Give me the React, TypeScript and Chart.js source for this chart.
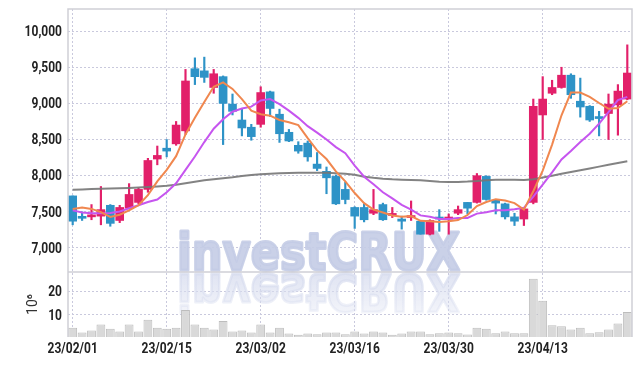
import React, { useEffect, useRef } from 'react';
import { Chart, registerables } from 'chart.js';

Chart.register(...registerables);

const dates = [
  '23/02/01', '23/02/02', '23/02/03', '23/02/06', '23/02/07', '23/02/08', '23/02/09', '23/02/10', '23/02/13', '23/02/14',
  '23/02/15', '23/02/16', '23/02/17', '23/02/20', '23/02/21', '23/02/22', '23/02/23', '23/02/24', '23/02/27', '23/02/28',
  '23/03/02', '23/03/03', '23/03/06', '23/03/07', '23/03/08', '23/03/09', '23/03/10', '23/03/13', '23/03/14', '23/03/15',
  '23/03/16', '23/03/17', '23/03/20', '23/03/21', '23/03/22', '23/03/23', '23/03/24', '23/03/27', '23/03/28', '23/03/29',
  '23/03/30', '23/03/31', '23/04/03', '23/04/04', '23/04/05', '23/04/06', '23/04/07', '23/04/10', '23/04/11', '23/04/12',
  '23/04/13', '23/04/14', '23/04/17', '23/04/18', '23/04/19', '23/04/20', '23/04/21', '23/04/24', '23/04/25', '23/04/26',
];

const opens = [
  7720, 7420, 7430, 7440, 7590, 7380, 7550, 7630, 7810, 8230,
  8380, 8440, 8620, 9480, 9450, 9220, 9370, 8990, 8770, 8670,
  8710, 9160, 8850, 8600, 8420, 8450, 8160, 8060, 7990, 7810,
  7560, 7560, 7480, 7600, 7450, 7400, 7420, 7370, 7190, 7420,
  7400, 7480, 7630, 7630, 7990, 7660, 7610, 7430, 7400, 7630,
  8840, 9140, 9220, 9390, 9030, 8960, 8810, 8860, 8980, 9060,
];
const highs = [
  7720, 7500, 7600, 7850, 7600, 7590, 7890, 7830, 8240, 8410,
  8500, 8750, 9470, 9630, 9640, 9470, 9380, 9130, 8930, 8710,
  9230, 9170, 8920, 8640, 8470, 8480, 8320, 8120, 8010, 7910,
  7570, 7610, 7810, 7620, 7560, 7440, 7650, 7380, 7390, 7530,
  7470, 7580, 7630, 8030, 8000, 7670, 7620, 7480, 7550, 9060,
  9370, 9320, 9500, 9410, 9350, 8970, 8890, 9130, 9260, 9810,
];
const lows = [
  7320, 7380, 7390, 7320, 7300, 7350, 7540, 7610, 7770, 8150,
  8260, 8420, 8570, 9260, 9290, 9140, 8430, 8840, 8550, 8490,
  8670, 8820, 8460, 8470, 8310, 8200, 8070, 7750, 7600, 7610,
  7270, 7360, 7460, 7380, 7420, 7260, 7380, 7190, 7180, 7230,
  7190, 7460, 7470, 7620, 7660, 7470, 7400, 7310, 7310, 7610,
  8500, 9120, 9210, 9070, 8810, 8750, 8550, 8500, 8560, 9050,
];
const closes = [
  7370, 7410, 7450, 7530, 7340, 7560, 7740, 7810, 8210, 8280,
  8340, 8700, 9310, 9370, 9360, 9410, 9000, 8890, 8660, 8540,
  9150, 8930, 8580, 8480, 8340, 8260, 8100, 7970, 7610, 7670,
  7440, 7390, 7530, 7390, 7470, 7370, 7440, 7190, 7380, 7400,
  7420, 7530, 7550, 8000, 7670, 7620, 7430, 7370, 7540, 8960,
  9060, 9220, 9390, 9120, 8950, 8770, 8790, 8990, 9170, 9420,
];

// volume, millions of shares
const volumes = [
  4.6, 2.6, 3.4, 6.0, 4.2, 3.0, 5.9, 3.0, 7.9, 4.6,
  4.2, 4.6, 12.0, 5.9, 4.6, 3.9, 7.4, 3.0, 3.4, 2.6,
  5.9, 2.6, 4.6, 2.2, 1.6, 2.2, 1.9, 2.6, 2.6, 1.9,
  3.0, 2.2, 3.0, 2.6, 1.6, 2.2, 3.0, 3.0, 1.9, 2.3,
  2.6, 2.3, 1.7, 4.6, 4.2, 2.3, 3.0, 2.3, 2.3, 25.2,
  15.9, 5.6, 5.2, 3.8, 4.6, 2.3, 2.7, 3.9, 6.4, 11.2,
];

const ma5 = [
  7540, 7560, 7540, 7495, 7430, 7460, 7520, 7590, 7730, 7920,
  8080, 8270, 8570, 8800, 9020, 9230, 9290, 9200, 9060, 8900,
  8850, 8830, 8770, 8740, 8700, 8520, 8350, 8230, 8060, 7920,
  7760, 7620, 7530, 7490, 7450, 7430, 7440, 7375, 7370, 7360,
  7370, 7385, 7455, 7580, 7635, 7675, 7655, 7620, 7530, 7785,
  8070, 8430, 8835, 9150, 9150, 9090, 9005, 8925, 8935, 9030,
];
const ma10 = [
  7520, 7490, 7480, 7480, 7485, 7505, 7550, 7590, 7635, 7670,
  7770, 7895, 8080, 8265, 8465, 8650, 8780, 8885, 8930, 8955,
  9040, 9060, 8990, 8900, 8800, 8685, 8595, 8500, 8395, 8310,
  8140, 7985, 7880, 7770, 7685, 7595, 7530, 7450, 7430, 7400,
  7400, 7415, 7415, 7475, 7495, 7520, 7520, 7535, 7555, 7710,
  7875, 8045, 8225, 8340, 8465, 8580, 8720, 8880, 9045, 9090,
];
const maLong = [
  7805, 7810, 7815, 7818, 7822, 7826, 7830, 7835, 7842, 7850,
  7860, 7875, 7895, 7915, 7935, 7950, 7965, 7978, 7995, 8010,
  8020, 8028, 8033, 8038, 8040, 8042, 8042, 8040, 8035, 8025,
  8012, 7985, 7970, 7958, 7950, 7945, 7940, 7935, 7925, 7915,
  7912, 7914, 7918, 7925, 7935, 7942, 7945, 7943, 7940, 7950,
  7975, 8000, 8025, 8050, 8075, 8100, 8125, 8150, 8175, 8200,
];

const priceTicks = [7000, 7500, 8000, 8500, 9000, 9500, 10000];
const volumeTicks = [10, 20];
const labelEvery = 10;
const volumeTitle = '10⁶';
const watermark = 'investCRUX';

const RED = '#e2206a';
const BLUE = '#2e93c7';
const GRID = '#c9c9dd';
const FRAME = '#cfcfd6';
const LABEL_FONT = 'bold 15px Roboto, "Liberation Sans", sans-serif';
const LABEL_SQUEEZE = 0.8;

function drawSqueezed(ctx: any, text: string, x: number, y: number, align: string) {
  ctx.save();
  ctx.translate(x, y);
  ctx.scale(LABEL_SQUEEZE, 1);
  ctx.textAlign = align;
  ctx.textBaseline = 'middle';
  ctx.fillText(text, 0, 0);
  ctx.restore();
}

const framePlugin = {
  id: 'frame',
  beforeDatasetsDraw(chart: any) {
    const { ctx, chartArea } = chart;
    const sepY = chart.scales.yv.top;
    ctx.save();
    ctx.font = 'bold 52px "DejaVu Sans", sans-serif';
    ctx.lineJoin = 'round';
    const w = ctx.measureText(watermark).width;
    const targetW = 283;
    const left = 177;
    ctx.save();
    ctx.translate(left, sepY - 2);
    ctx.scale(targetW / w, 1);
    ctx.fillStyle = 'rgba(196,204,229,0.9)';
    ctx.strokeStyle = 'rgba(196,204,229,0.9)';
    ctx.lineWidth = 3;
    ctx.textBaseline = 'alphabetic';
    ctx.strokeText(watermark, 0, 0);
    ctx.fillText(watermark, 0, 0);
    ctx.restore();
    ctx.save();
    ctx.beginPath();
    ctx.rect(chartArea.left, sepY, chartArea.right - chartArea.left, 52);
    ctx.clip();
    ctx.translate(left, sepY + 2);
    ctx.scale(targetW / w, -1);
    const g = ctx.createLinearGradient(0, 0, 0, -48);
    g.addColorStop(0, 'rgba(216,221,239,0.8)');
    g.addColorStop(1, 'rgba(216,221,239,0.2)');
    ctx.fillStyle = g;
    ctx.strokeStyle = g;
    ctx.lineWidth = 3;
    ctx.strokeText(watermark, 0, 0);
    ctx.fillText(watermark, 0, 0);
    ctx.restore();
    ctx.restore();
  },
  afterDraw(chart: any) {
    const { ctx, chartArea } = chart;
    const sepY = chart.scales.yv.top;
    ctx.save();
    ctx.strokeStyle = FRAME;
    ctx.lineWidth = 1.5;
    ctx.beginPath();
    ctx.moveTo(chartArea.left, chartArea.bottom);
    ctx.lineTo(chartArea.left, chartArea.top);
    ctx.lineTo(chartArea.right, chartArea.top);
    ctx.lineTo(chartArea.right, chartArea.bottom);
    ctx.moveTo(chartArea.left, sepY);
    ctx.lineTo(chartArea.right, sepY);
    ctx.stroke();

    // axis labels in a condensed face
    ctx.font = LABEL_FONT;
    ctx.fillStyle = '#222';
    for (const id of ['y', 'yv']) {
      const s = chart.scales[id];
      s.ticks.forEach((t: any, i: number) => {
        const label = String(t.label ?? '');
        if (!label) return;
        drawSqueezed(ctx, label, s.right - 6, s.getPixelForTick(i) + 1, 'right');
      });
    }
    const sx = chart.scales.x;
    sx.ticks.forEach((t: any, i: number) => {
      const label = String(t.label ?? '');
      if (!label) return;
      drawSqueezed(ctx, label, sx.getPixelForTick(i), sx.top + 12, 'center');
    });
    ctx.restore();
  },
};

export default function App() {
  const ref = useRef<HTMLCanvasElement | null>(null);

  useEffect(() => {
    if (!ref.current) return;
    const candleColors = opens.map((o, i) => (closes[i] >= o ? RED : BLUE));
    const chart = new Chart(ref.current, {
      type: 'bar',
      data: {
        labels: dates,
        datasets: [
          {
            type: 'line',
            data: ma5,
            yAxisID: 'y',
            borderColor: '#f0874f',
            borderWidth: 2,
            pointRadius: 0,
            order: 0,
          } as any,
          {
            type: 'line',
            data: ma10,
            yAxisID: 'y',
            borderColor: '#c655ef',
            borderWidth: 2,
            pointRadius: 0,
            order: 0,
          } as any,
          {
            type: 'line',
            data: maLong,
            yAxisID: 'y',
            borderColor: 'rgba(118,118,118,0.9)',
            borderWidth: 2,
            pointRadius: 0,
            order: 0,
          } as any,
          {
            type: 'bar',
            data: opens.map((o, i) => [o, closes[i]]),
            yAxisID: 'y',
            backgroundColor: candleColors,
            barThickness: 8,
            minBarLength: 2,
            grouped: false,
            order: 1,
          } as any,
          {
            type: 'bar',
            data: lows.map((l, i) => [l, highs[i]]),
            yAxisID: 'y',
            backgroundColor: candleColors,
            barThickness: 1.5,
            grouped: false,
            order: 2,
          } as any,
          {
            type: 'bar',
            data: volumes,
            yAxisID: 'yv',
            backgroundColor: '#d9d9d9',
            borderColor: '#bdbdbd',
            borderWidth: 1,
            barPercentage: 1,
            categoryPercentage: 0.94,
            grouped: false,
            order: 3,
          } as any,
        ],
      },
      options: {
        animation: false,
        responsive: false,
        maintainAspectRatio: false,
        layout: { padding: { top: 9, right: 10, left: 0, bottom: 0 } },
        plugins: { legend: { display: false }, tooltip: { enabled: false } },
        scales: {
          x: {
            type: 'category',
            offset: true,
            grid: {
              offset: false,
              drawTicks: false,
              color: (c: any) => (c.index % labelEvery === 0 ? GRID : 'transparent'),
            },
            border: { display: false, dash: [2, 2] },
            ticks: {
              autoSkip: false,
              maxRotation: 0,
              minRotation: 0,
              padding: 4,
              color: 'transparent',
              font: { family: 'Roboto', size: 13, weight: 'bold' },
              callback: (_v: any, i: number) => (i % labelEvery === 0 ? dates[i] : ''),
            },
            afterFit: (s: any) => {
              s.height = 29;
              s.paddingLeft = 0;
              s.paddingRight = 0;
            },
          },
          y: {
            type: 'linear',
            position: 'left',
            stack: 'panels',
            stackWeight: 263,
            weight: 2,
            min: 6667,
            max: 10306,
            grid: { color: GRID, drawTicks: false },
            border: { display: false, dash: [2, 2] },
            ticks: {
              padding: 6,
              color: 'transparent',
              font: { family: 'Roboto', size: 13, weight: 'bold' },
              callback: (v: any) => Number(v).toLocaleString('en-US'),
            },
            afterBuildTicks: (s: any) => {
              s.ticks = priceTicks.map((v) => ({ value: v }));
            },
            afterFit: (s: any) => {
              s.width = 68;
              s.paddingTop = 0;
              s.paddingBottom = 0;
            },
          },
          yv: {
            type: 'linear',
            position: 'left',
            stack: 'panels',
            stackWeight: 65,
            weight: 1,
            min: 0.7,
            max: 28,
            grid: { color: GRID, drawTicks: false },
            border: { display: false, dash: [2, 2] },
            title: {
              display: true,
              text: volumeTitle,
              color: '#333',
              font: { family: 'Roboto', size: 14 },
              padding: { top: 25, bottom: 0 },
            },
            ticks: {
              padding: 6,
              color: 'transparent',
              font: { family: 'Roboto', size: 13, weight: 'bold' },
            },
            afterBuildTicks: (s: any) => {
              s.ticks = volumeTicks.map((v) => ({ value: v }));
            },
            afterFit: (s: any) => {
              s.width = 68;
              s.paddingTop = 0;
              s.paddingBottom = 0;
            },
          },
        },
      } as any,
      plugins: [framePlugin],
    });
    return () => chart.destroy();
  }, []);

  return (
    <div style={{ position: 'absolute', left: 0, top: 0, width: 642, height: 366, background: '#fff' }}>
      <canvas ref={ref} width={642} height={366} />
    </div>
  );
}
